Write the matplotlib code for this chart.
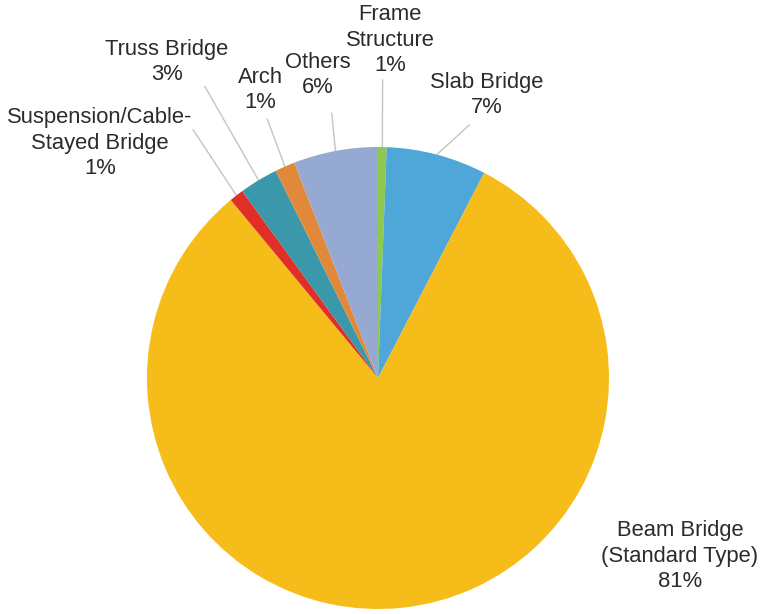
import numpy as np
import matplotlib
matplotlib.use("Agg")
import matplotlib.pyplot as plt

plt.rcParams["font.family"] = ["Liberation Sans", "DejaVu Sans"]

# Bridge types by share of total (percent), clockwise from 12 o'clock
categories = [
    "Frame\nStructure",
    "Slab Bridge",
    "Beam Bridge\n(Standard Type)",
    "Suspension/Cable-\nStayed Bridge",
    "Truss Bridge",
    "Arch",
    "Others",
]
shares = [0.6, 7.0, 81.4, 1.0, 2.7, 1.4, 5.9]
colors = ["#8cc94e", "#4fa6d8", "#f6bc1a", "#e02f27", "#3b97aa", "#e0893b", "#95a9d3"]

# Label placement (data units, pie radius = 1): text centre and leader-line end
label_xy = [(0.052, 1.463), (0.472, 1.225), (1.307, -0.771), (-1.203, 1.017),
            (-0.913, 1.368), (-0.511, 1.247), (-0.260, 1.312)]
leader_end = [(0.020, 1.290), (0.395, 1.095), None, (-0.800, 1.074),
              (-0.749, 1.261), (-0.479, 1.120), (-0.200, 1.146)]

fig = plt.figure(figsize=(7.64, 6.14), dpi=100)
ax = fig.add_axes([0, 0, 1, 1])
wedges, _ = ax.pie(shares, colors=colors, startangle=90, counterclock=False,
                   radius=1.0, wedgeprops=dict(linewidth=0))

for w, name, val, pos, end in zip(wedges, categories, shares, label_xy, leader_end):
    mid = np.deg2rad((w.theta1 + w.theta2) / 2)
    if end is not None:
        ax.plot([np.cos(mid), end[0]], [np.sin(mid), end[1]],
                color="#c4c4c4", linewidth=1.0, zorder=0)
    ax.text(pos[0], pos[1], f"{name}\n{val:.0f}%", ha="center", va="center",
            fontsize=15.8, color="#2b2b2b", linespacing=1.28)

ax.set_xlim(-378 / 231, (764 - 378) / 231)
ax.set_ylim(-(614 - 378) / 231, 378 / 231)
ax.set_aspect("equal")
ax.axis("off")

fig.savefig("out.png", dpi=100, facecolor="white")
